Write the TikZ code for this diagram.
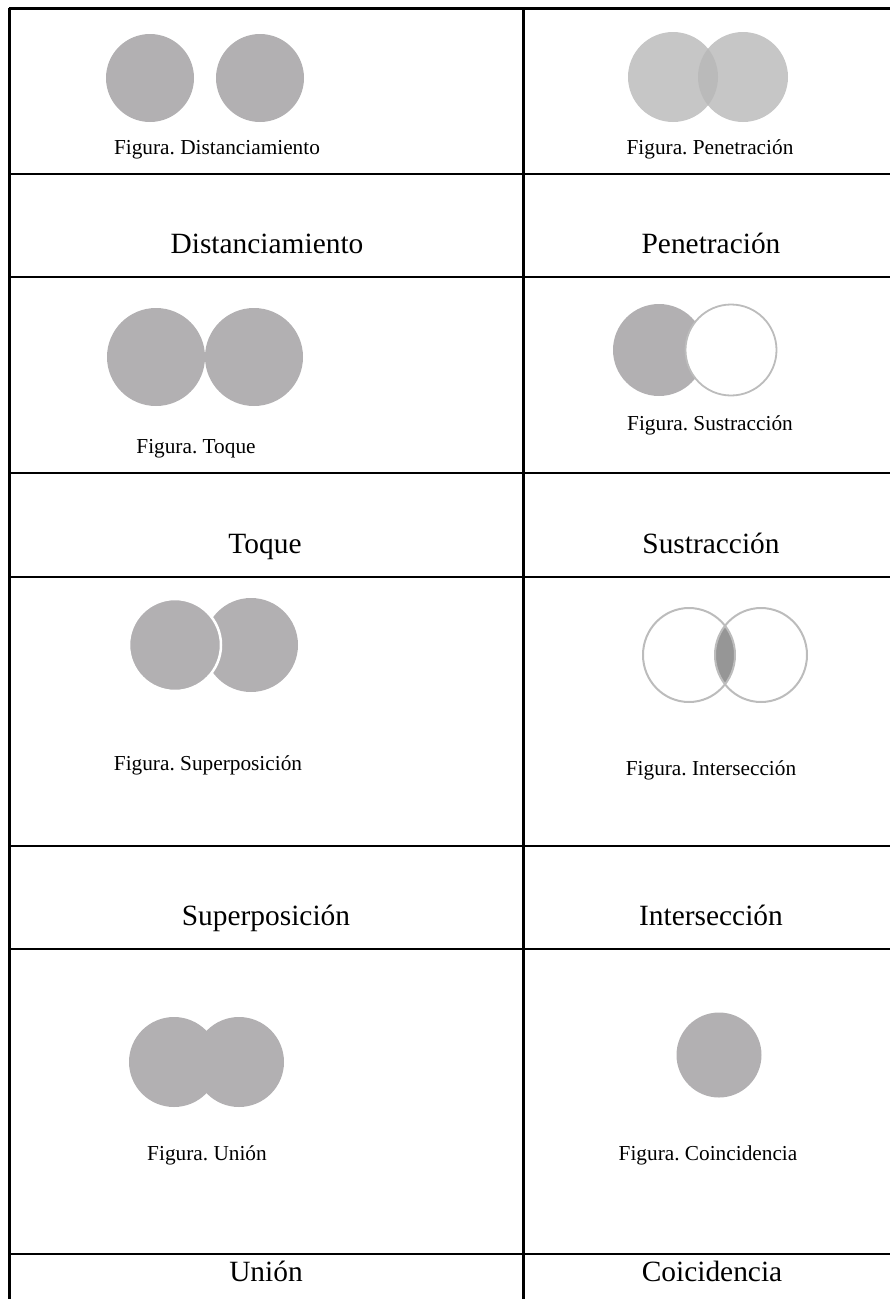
\documentclass[tikz,border=0pt]{standalone}
\usepackage{fontspec}
\setmainfont{Liberation Serif}
\frenchspacing
\definecolor{circgray}{RGB}{178,176,178}
\definecolor{pengray}{RGB}{198,198,198}
\definecolor{penover}{RGB}{186,186,186}
\definecolor{ringgray}{RGB}{188,188,188}
\definecolor{lensgray}{RGB}{150,150,150}
\tikzset{
  tableline/.style={line width=2.2pt, black},
  figcap/.style={anchor=base, inner sep=0pt, font=\fontsize{21.3}{24}\selectfont},
  bigtitle/.style={anchor=base, inner sep=0pt, font=\fontsize{29.4}{34}\selectfont},
  ringline/.style={draw=ringgray, line width=2pt}
}
\begin{document}
\begin{tikzpicture}[x=1pt,y=-1pt]
\useasboundingbox (0,0) rectangle (890,1299);
% table lines
\draw[tableline] (9.5,7.5) -- (9.5,1299);
\draw[tableline] (523.5,7.5) -- (523.5,1299);
\foreach \yy in {8.5,174,277,473.3,576.7,846,949.3,1254.3}
  \draw[tableline] (8.5,\yy) -- (890,\yy);

% Distanciamiento
\fill[circgray] (150,78) circle (44);
\fill[circgray] (260,78) circle (44);
\node[figcap] (c1) at (217,154) {Figura. Distanciamiento};
\node[bigtitle] (t1) at (267,253) {Distanciamiento};

% Penetracion
\fill[pengray] (673,77) circle (45);
\fill[pengray] (743,77) circle (45);
\begin{scope}
  \clip (673,77) circle (45);
  \fill[penover] (743,77) circle (45);
\end{scope}
\node[figcap] (c2) at (710,154) {Figura. Penetración};
\node[bigtitle] (t2) at (711,253) {Penetración};

% Toque
\fill[circgray] (156,357) circle (49);
\fill[circgray] (254,357) circle (49);
\node[figcap] (c3) at (196,453) {Figura. Toque};
\node[bigtitle] (t3) at (265,553) {Toque};

% Sustraccion
\fill[circgray] (659,350) circle (46);
\filldraw[fill=white, draw=ringgray, line width=1.8pt] (731,350) circle (45.5);
\node[figcap] (c4) at (710,430) {Figura. Sustracción};
\node[bigtitle] (t4) at (711,553) {Sustracción};

% Superposicion
\fill[circgray] (251,645) circle (47);
\filldraw[fill=circgray, draw=white, line width=2.5pt] (175,645) circle (46);
\node[figcap] (c5) at (208,770) {Figura. Superposición};
\node[bigtitle] (t5) at (266,925) {Superposición};

% Interseccion
\begin{scope}
  \clip (689,655) ellipse (46 and 47);
  \fill[lensgray] (761,655) ellipse (46 and 47);
\end{scope}
\draw[ringline] (689,655) ellipse (46 and 47);
\draw[ringline] (761,655) ellipse (46 and 47);
\node[figcap] (c6) at (711,775) {Figura. Intersección};
\node[bigtitle] (t6) at (711,925) {Intersección};

% Union
\fill[circgray] (174,1062) circle (45);
\fill[circgray] (239,1062) circle (45);
\node[figcap] (c7) at (207,1160) {Figura. Unión};
\node[bigtitle] (t7) at (266,1281) {Unión};

% Coincidencia
\fill[circgray] (719,1055) circle (42.5);
\node[figcap] (c8) at (708,1160) {Figura. Coincidencia};
\node[bigtitle] (t8) at (712,1281) {Coicidencia};
\end{tikzpicture}
\end{document}
